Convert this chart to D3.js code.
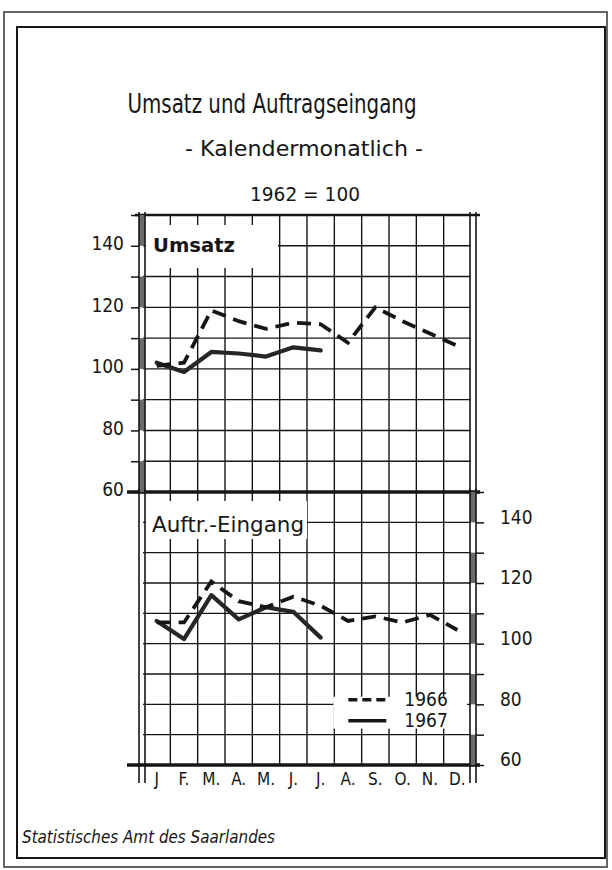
<!DOCTYPE html>
<html>
<head>
<meta charset="utf-8">
<script src="https://cdn.jsdelivr.net/npm/d3@7"></script>
<style>
body { margin: 0; background: #fff; }
svg { display: block; }
</style>
</head>
<body>
<script>
// values, 1962 = 100
var months = ["J", "F.", "M.", "A.", "M.", "J.", "J.", "A.", "S.", "O.", "N.", "D."];
var umsatz1966 = [101, 102, 119, 115.5, 113, 115, 114.5, 108.5, 120, 115.5, 111.5, 107.5];
var umsatz1967 = [102, 99, 105.5, 105, 104, 107, 106];
var auftr1966 = [107, 107, 120.5, 114, 112, 115.5, 112.5, 107.5, 109, 107, 109.5, 104.5];
var auftr1967 = [107.5, 101.5, 116, 108, 112, 110.5, 102];
var yLabels = [60, 80, 100, 120, 140];
var years = ["1966", "1967"];

var width = 612, height = 870;
var ink = "#161616";
var font = "'DejaVu Sans Condensed', 'DejaVu Sans', sans-serif";

var svg = d3.select("body").append("svg")
    .attr("width", width)
    .attr("height", height);

// scanned frame, double border
svg.append("rect").attr("x", 4).attr("y", 12).attr("width", 603).attr("height", 855)
    .attr("fill", "none").attr("stroke", "#666").attr("stroke-width", 2);
svg.append("rect").attr("x", 17).attr("y", 27).attr("width", 588).attr("height", 831)
    .attr("fill", "none").attr("stroke", ink).attr("stroke-width", 2);

var pLeft = 143, pRight = 471, pTop = 215, pMid = 492, pBottom = 765;

var x = d3.scaleBand().domain(d3.range(12)).range([pLeft, pRight]);
var yTop = d3.scaleLinear().domain([60, 150]).range([pMid, pTop]);
var yBot = d3.scaleLinear().domain([60, 150]).range([pBottom, pMid]);
var cx = function(d, i){ return x(i) + x.bandwidth() / 2; };

var grid = svg.append("g").attr("stroke", ink).attr("stroke-width", 1.4);
var gridVals = d3.range(70, 150, 10);
var bounds = d3.range(1, 12).map(function(i){ return x(i); });

[yTop, yBot].forEach(function(y){
    grid.append("g").selectAll("line").data(gridVals).enter().append("line")
        .attr("x1", pLeft).attr("x2", pRight)
        .attr("y1", function(d){ return y(d); })
        .attr("y2", function(d){ return y(d); });
    grid.append("g").selectAll("line").data(bounds).enter().append("line")
        .attr("x1", function(d){ return d; })
        .attr("x2", function(d){ return d; })
        .attr("y1", y.range()[1])
        .attr("y2", y.range()[0]);
});

// white boxes for panel names and legend (ticks stay visible above them)
svg.append("rect").attr("x", pLeft + 3).attr("y", pTop + 10).attr("width", 132).attr("height", 43).attr("fill", "#fff");
svg.append("rect").attr("x", pLeft + 3).attr("y", pMid + 9).attr("width", 161).attr("height", 38).attr("fill", "#fff");
svg.append("rect").attr("x", x(7) - 1).attr("y", yBot(82.5)).attr("width", pRight - x(7) - 3)
    .attr("height", yBot(72) - yBot(82.5)).attr("fill", "#fff");

// heavy frame lines of the two panels
var frame = svg.append("g").attr("stroke", ink);
frame.append("line").attr("x1", pLeft - 8).attr("x2", pRight + 9).attr("y1", pTop).attr("y2", pTop).attr("stroke-width", 2.5);
frame.append("line").attr("x1", pLeft - 16).attr("x2", pRight + 9).attr("y1", pMid).attr("y2", pMid).attr("stroke-width", 3.5);
frame.append("line").attr("x1", pLeft - 16).attr("x2", pRight + 9).attr("y1", pBottom).attr("y2", pBottom).attr("stroke-width", 3.5);

// double axis lines, shaded every other 10 units
function doubleAxis(xa, y, shaded){
    var g = svg.append("g");
    if (shaded) {
        g.selectAll("rect").data([140, 120, 100, 80, 60]).enter().append("rect")
            .attr("x", xa).attr("width", 6)
            .attr("y", function(d){ return y(d + 10); })
            .attr("height", function(d){ return y(d) - y(d + 10); })
            .attr("fill", "#6a6a6a");
    }
    g.selectAll("line").data([xa, xa + 6]).enter().append("line")
        .attr("x1", function(d){ return d; }).attr("x2", function(d){ return d; })
        .attr("y1", y.range()[1] - 3).attr("y2", y.range()[0] + (y === yBot ? 18 : 0))
        .attr("stroke", ink).attr("stroke-width", 1.6);
}
doubleAxis(pLeft - 4, yTop, true);
doubleAxis(pLeft - 4, yBot, false);
doubleAxis(pRight - 1, yTop, false);
doubleAxis(pRight - 1, yBot, true);

// y axes: left for Umsatz, right for Auftragseingang
var tickVals = d3.range(60, 151, 10);
var fmt = function(d){ return yLabels.indexOf(d) >= 0 ? d : ""; };

var axL = svg.append("g").attr("transform", "translate(" + (pLeft - 4) + ",0)")
    .call(d3.axisLeft(yTop).tickValues(tickVals).tickFormat(fmt).tickSize(8).tickPadding(7));
var axR = svg.append("g").attr("transform", "translate(" + (pRight + 5) + ",0)")
    .call(d3.axisRight(yBot).tickValues(tickVals).tickFormat(fmt).tickSize(8).tickPadding(16));
[axL, axR].forEach(function(ax){
    ax.select(".domain").remove();
    ax.selectAll("line").attr("stroke", ink).attr("stroke-width", 1.5);
    ax.selectAll("text").attr("font-family", font).attr("font-size", 19).attr("fill", ink);
});
axL.selectAll("text").attr("dy", "0.2em");
axR.selectAll("text").attr("dy", "0.05em");

// month axis
var axX = svg.append("g").attr("transform", "translate(0," + pBottom + ")")
    .call(d3.axisBottom(x).tickFormat(function(i){ return months[i]; }).tickSize(0).tickPadding(8));
axX.select(".domain").remove();
axX.selectAll("text").attr("font-family", font).attr("font-size", 17).attr("fill", ink);

// series
var line = function(y){
    return d3.line().x(cx).y(function(d){ return y(d); });
};
function drawPair(y, s66, s67){
    svg.append("path").datum(s67).attr("d", line(y))
        .attr("fill", "none").attr("stroke", "#262626").attr("stroke-width", 4.2)
        .attr("stroke-linejoin", "round").attr("stroke-linecap", "round");
    svg.append("path").datum(s66).attr("d", line(y))
        .attr("fill", "none").attr("stroke", ink).attr("stroke-width", 3.8)
        .attr("stroke-dasharray", "14,8").attr("stroke-linecap", "butt");
}
drawPair(yTop, umsatz1966, umsatz1967);
drawPair(yBot, auftr1966, auftr1967);

// panel names
svg.append("text").attr("x", pLeft + 10).attr("y", pTop + 37).text("Umsatz")
    .attr("font-family", font).attr("font-size", 20).attr("font-weight", "bold").attr("fill", ink)
    .attr("textLength", 82).attr("lengthAdjust", "spacingAndGlyphs");
svg.append("text").attr("x", pLeft + 9).attr("y", pMid + 40).text("Auftr.-Eingang")
    .attr("font-family", font).attr("font-size", 21).attr("fill", ink)
    .attr("textLength", 152).attr("lengthAdjust", "spacingAndGlyphs");

// legend
var lg = svg.append("g").attr("transform", "translate(" + (x(7) + 14) + "," + yBot(81.5) + ")");
lg.selectAll("line").data(years).enter().append("line")
    .attr("x1", 0).attr("x2", 38)
    .attr("y1", function(d, i){ return i * 21; })
    .attr("y2", function(d, i){ return i * 21; })
    .attr("stroke", ink).attr("stroke-width", 3.4)
    .attr("stroke-dasharray", function(d, i){ return i === 0 ? "9,5" : null; });
lg.selectAll("text").data(years).enter().append("text")
    .attr("x", 56).attr("y", function(d, i){ return i * 21 + 6; })
    .text(function(d){ return d; })
    .attr("font-family", font).attr("font-size", 19).attr("fill", ink);

// titles
svg.append("text").attr("x", 272).attr("y", 113).attr("text-anchor", "middle")
    .text("Umsatz und Auftragseingang")
    .attr("font-family", font).attr("font-size", 26).attr("fill", ink)
    .attr("textLength", 289).attr("lengthAdjust", "spacingAndGlyphs");
svg.append("text").attr("x", 304).attr("y", 156).attr("text-anchor", "middle")
    .text("- Kalendermonatlich -")
    .attr("font-family", font).attr("font-size", 21).attr("fill", ink)
    .attr("textLength", 238).attr("lengthAdjust", "spacingAndGlyphs");
svg.append("text").attr("x", 305).attr("y", 201).attr("text-anchor", "middle")
    .text("1962 = 100")
    .attr("font-family", font).attr("font-size", 20).attr("fill", ink)
    .attr("textLength", 110).attr("lengthAdjust", "spacingAndGlyphs");

// source
svg.append("text").attr("x", 22).attr("y", 843)
    .text("Statistisches Amt des Saarlandes")
    .attr("font-family", font).attr("font-size", 17).attr("font-style", "italic").attr("fill", ink)
    .attr("textLength", 253).attr("lengthAdjust", "spacingAndGlyphs");
</script>
</body>
</html>
